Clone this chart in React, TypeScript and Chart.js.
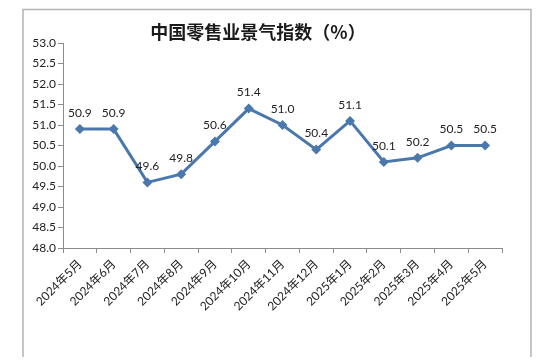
import React, { useEffect, useRef } from "react";
import { Chart, registerables } from "chart.js";

Chart.register(...registerables);

const TITLE = "中国零售业景气指数（%）";
const categories = [
  "2024年5月", "2024年6月", "2024年7月", "2024年8月", "2024年9月", "2024年10月",
  "2024年11月", "2024年12月", "2025年1月", "2025年2月", "2025年3月", "2025年4月", "2025年5月",
];
const values = [50.9, 50.9, 49.6, 49.8, 50.6, 51.4, 51.0, 50.4, 51.1, 50.1, 50.2, 50.5, 50.5];
const yMin = 48;
const yMax = 53;
const yStep = 0.5;

const FONT = "Lato, 'Noto Sans CJK SC', sans-serif";

const framePlugin = {
  id: "frame",
  beforeDraw(chart: any) {
    const ctx = chart.ctx;
    ctx.save();
    ctx.fillStyle = "#ffffff";
    ctx.fillRect(0, 0, chart.width, chart.height);
    ctx.strokeStyle = "#b4b4b4";
    ctx.lineWidth = 1.5;
    ctx.beginPath();
    ctx.moveTo(23, 357);
    ctx.lineTo(23, 9.5);
    ctx.lineTo(531, 9.5);
    ctx.lineTo(531, 357);
    ctx.stroke();
    ctx.fillStyle = "#1a1a1a";
    ctx.font = "bold 18px 'Noto Sans CJK SC', sans-serif";
    ctx.textAlign = "center";
    ctx.textBaseline = "middle";
    ctx.fillText(TITLE, 258, 32);
    ctx.restore();
  },
  afterDatasetsDraw(chart: any) {
    const ctx = chart.ctx;
    const meta = chart.getDatasetMeta(0);
    ctx.save();
    ctx.fillStyle = "#222222";
    ctx.font = "12px " + FONT;
    ctx.textAlign = "center";
    ctx.textBaseline = "bottom";
    meta.data.forEach((pt: any, i: number) => {
      ctx.fillText(values[i].toFixed(1), pt.x, pt.y - 10);
    });
    ctx.restore();
  },
};

export default function App() {
  const ref = useRef<HTMLCanvasElement>(null);
  useEffect(() => {
    document.body.style.margin = "0";
    const chart = new Chart(ref.current!, {
      type: "line",
      data: {
        labels: categories,
        datasets: [
          {
            data: values,
            borderColor: "#4a78ac",
            backgroundColor: "#4a78ac",
            borderWidth: 3,
            pointStyle: "rectRot",
            pointRadius: 5,
            pointBorderWidth: 0,
            tension: 0,
          },
        ],
      },
      options: {
        responsive: false,
        animation: false,
        layout: { padding: { left: 23, top: 43, right: 54, bottom: 0 } },
        plugins: { legend: { display: false }, title: { display: false }, tooltip: { enabled: false } },
        scales: {
          x: {
            offset: true,
            grid: { offset: true, drawOnChartArea: false, tickLength: 5, color: "#8c8c8c" },
            border: { color: "#8c8c8c", width: 1 },
            ticks: {
              minRotation: 45,
              maxRotation: 45,
              autoSkip: false,
              color: "#222222",
              font: { size: 12, family: FONT },
              padding: 4,
            },
            afterFit: (s: any) => { s.height = 116; },
          },
          y: {
            min: yMin,
            max: yMax,
            grid: { drawOnChartArea: false, tickLength: 5, color: "#8c8c8c" },
            border: { color: "#8c8c8c", width: 1 },
            ticks: {
              stepSize: yStep,
              color: "#222222",
              font: { size: 12, family: FONT },
              padding: 2,
              callback: (v: any) => Number(v).toFixed(1),
            },
            afterFit: (s: any) => { s.width = 40; },
          },
        },
      },
      plugins: [framePlugin],
    });
    return () => chart.destroy();
  }, []);
  return <canvas ref={ref} width={556} height={364} style={{ display: "block" }} />;
}
